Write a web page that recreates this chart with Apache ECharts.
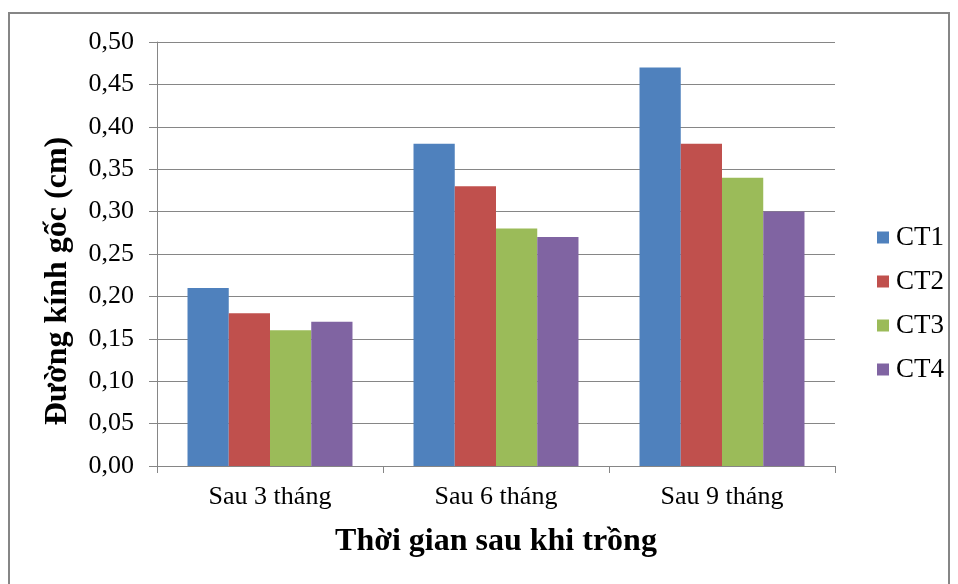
<!DOCTYPE html>
<html><head><meta charset="utf-8">
<script src="https://cdn.jsdelivr.net/npm/echarts@6/dist/echarts.min.js"></script>
<style>html,body{margin:0;padding:0;background:#fff}#c{width:958px;height:584px}</style>
</head><body><div id="c"></div>
<script>
const categories = ['Sau 3 tháng', 'Sau 6 tháng', 'Sau 9 tháng'];
const seriesNames = ['CT1', 'CT2', 'CT3', 'CT4'];
const ct1 = [0.21, 0.38, 0.47];
const ct2 = [0.18, 0.33, 0.38];
const ct3 = [0.16, 0.28, 0.34];
const ct4 = [0.17, 0.27, 0.30];
const colors = ['#4F81BD', '#C0504D', '#9BBB59', '#8064A2'];
const FONT = '"Liberation Serif","Times New Roman",serif';
const chart = echarts.init(document.getElementById('c'), null, {renderer: 'canvas'});
const values = [ct1, ct2, ct3, ct4];
chart.setOption({
  animation: false,
  textStyle: {fontFamily: FONT},
  graphic: [{
    type: 'rect', shape: {x: 9, y: 13, width: 940, height: 580},
    style: {fill: 'none', stroke: '#868686', lineWidth: 2}, z: -1
  }, {
    type: 'text', x: 58, y: 281, rotation: Math.PI / 2,
    style: {text: 'Đường kính gốc (cm)', font: 'bold 32px "Liberation Serif", serif',
      fill: '#000', textAlign: 'center', textVerticalAlign: 'middle'}
  }],
  grid: {left: 157, right: 123, top: 42, bottom: 118},
  legend: {
    orient: 'vertical', left: 872, top: 219, itemGap: 17,
    itemWidth: 12, itemHeight: 12, icon: 'rect',
    textStyle: {fontFamily: FONT, fontSize: 27, color: '#000', padding: [0, 0, 0, 2]},
    data: seriesNames
  },
  xAxis: {
    type: 'category', data: categories,
    name: 'Thời gian sau khi trồng', nameLocation: 'middle', nameGap: 60,
    nameTextStyle: {fontFamily: FONT, fontSize: 32, fontWeight: 'bold', color: '#000'},
    axisLine: {lineStyle: {color: '#868686', width: 1}},
    axisTick: {show: true, length: 7, lineStyle: {color: '#868686'}},
    axisLabel: {fontFamily: FONT, fontSize: 26, color: '#000', margin: 18}
  },
  yAxis: {
    type: 'value', min: 0, max: 0.5, interval: 0.05,
    axisLine: {show: true, lineStyle: {color: '#868686', width: 1}},
    axisTick: {show: true, length: 8, lineStyle: {color: '#868686'}},
    splitLine: {lineStyle: {color: '#868686', width: 1}},
    axisLabel: {fontFamily: FONT, fontSize: 26, color: '#000', margin: 23,
      formatter: v => v.toFixed(2).replace('.', ',')}
  },
  series: seriesNames.map((n, i) => ({
    name: n, type: 'bar', data: values[i],
    barGap: '0%', barCategoryGap: '27%',
    itemStyle: {color: colors[i]}
  }))
});
</script></body></html>
